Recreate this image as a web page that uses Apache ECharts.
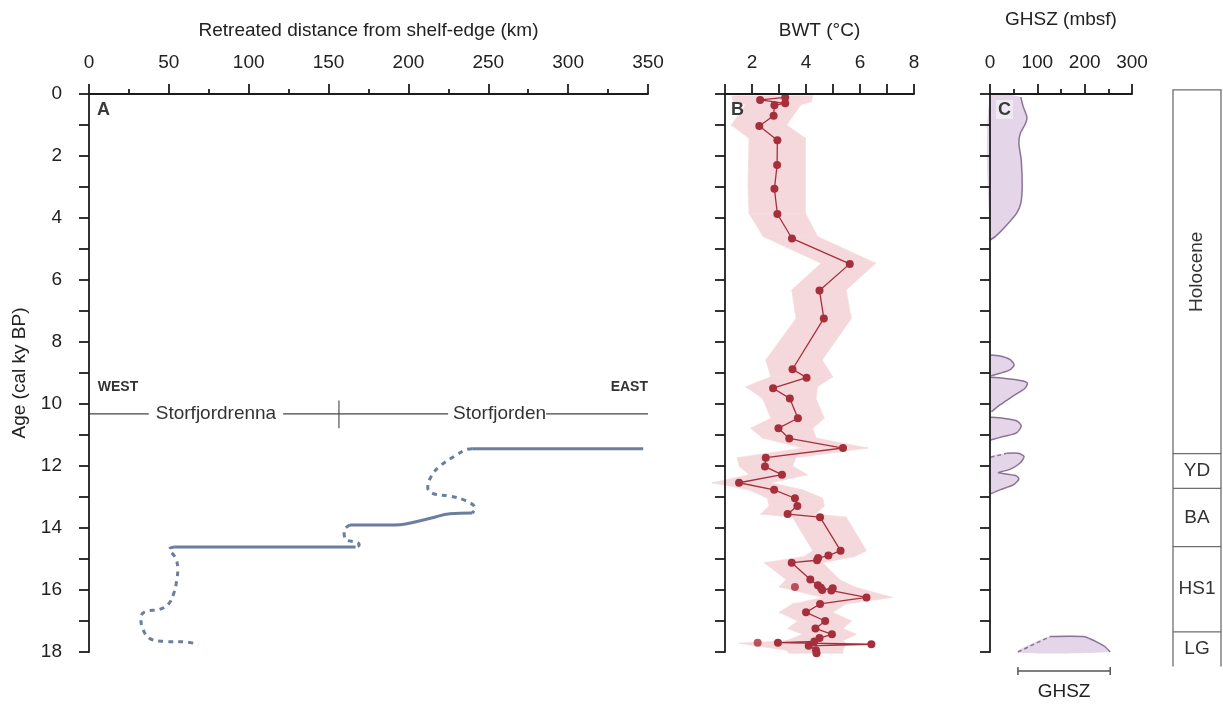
<!DOCTYPE html>
<html>
<head>
<meta charset="utf-8">
<script src="https://cdn.jsdelivr.net/npm/echarts@6/dist/echarts.min.js"></script>
<style>html,body{margin:0;padding:0;background:#fff}#c{width:1223px;height:706px}</style>
</head>
<body>
<div id="c"></div>
<script>
// ---------------- Panel A: ice-margin retreat (km from shelf edge) vs age ----------------
const retreatSolid1Km  = [347.0, 239.9];
const retreatSolid1Age = [11.44, 11.44];
const retreatDash1Km   = [239.9, 236.0, 230.6, 220.2, 214.4, 212.1, 215.6, 226.0, 236.4, 241.8, 239.9];
const retreatDash1Age  = [11.44, 11.47, 11.63, 11.98, 12.32, 12.70, 12.89, 12.97, 13.13, 13.37, 13.52];
const retreatSolid2Km  = [239.9, 226.0, 214.4, 198.2, 191.2, 163.4];
const retreatSolid2Age = [13.52, 13.54, 13.68, 13.87, 13.90, 13.90];
const retreatDash2Km   = [163.4, 159.7, 160.6, 168.1, 169.2, 166.9];
const retreatDash2Age  = [13.90, 14.09, 14.36, 14.47, 14.55, 14.61];
const retreatSolid3Km  = [166.9, 53.3];
const retreatSolid3Age = [14.61, 14.61];
const retreatDash3Km   = [53.3, 50.3, 54.0, 55.6, 54.9, 53.3, 49.8, 44.0, 35.9, 32.5, 33.6, 38.2, 47.5, 61.4, 68.4];
const retreatDash3Age  = [14.61, 14.68, 14.95, 15.32, 15.70, 16.07, 16.45, 16.63, 16.68, 16.88, 17.25, 17.57, 17.66, 17.68, 17.76];

const regionNames      = ['Storfjordrenna', 'Storfjorden'];
const regionNameKm     = [79.5, 255.5];
const regionLineAge    = 10.32;
const regionDividerKm  = 156.5;
const regionDividerAge = [9.89, 10.78];
const compassNames     = ['WEST', 'EAST'];
const compassKm        = [5.5, 350];
const compassAge       = 9.47;

// ---------------- Panel B: bottom-water temperature (°C) ----------------
const bwtAge  = [0.11, 0.19, 0.30, 0.36, 0.70, 1.03, 1.49, 2.29, 3.06, 3.87, 4.66, 5.48, 6.34, 7.24, 8.88,
                 9.15, 9.49, 9.82, 10.46, 10.78, 11.11, 11.42, 11.73, 12.02, 12.28, 12.54, 12.77, 13.04, 13.29,
                 13.55, 13.65, 14.73, 14.89, 14.97, 15.04, 15.12, 15.66, 15.85, 15.93, 16.00, 15.94, 16.02,
                 16.24, 16.45, 16.72, 17.00, 17.24, 17.43, 17.55, 17.66, 17.70, 17.75, 17.80, 17.94, 18.04];
const bwtTemp = [3.23, 2.30, 3.23, 2.83, 2.80, 2.27, 2.94, 2.93, 2.83, 2.94, 3.48, 5.62, 4.50, 4.66, 3.50,
                 4.02, 2.78, 3.40, 3.70, 2.98, 3.38, 5.37, 2.51, 2.48, 3.11, 1.52, 2.82, 3.59, 3.68,
                 3.32, 4.52, 5.28, 4.83, 4.45, 4.41, 3.47, 4.16, 4.44, 4.55, 4.60, 4.99, 4.94,
                 6.24, 4.52, 4.00, 4.71, 4.35, 4.96, 4.50, 4.31, 2.96, 6.42, 4.10, 4.37, 4.39];
const bwtIsolatedAge  = [15.90, 17.70];
const bwtIsolatedTemp = [3.59, 2.21];
const bandAge = [0.06, 0.25, 0.35, 1.00, 1.43, 3.00, 3.85, 4.60, 5.46, 6.32, 7.24, 8.58, 9.12, 9.44, 9.82,
                 10.46, 10.78, 11.10, 11.42, 11.73, 12.00, 12.28, 12.54, 12.77, 13.04, 13.29, 13.55, 13.65,
                 14.73, 14.92, 15.12, 15.66, 15.90, 16.24, 16.45, 16.72, 17.00, 17.24, 17.43, 17.64, 17.72,
                 17.94, 18.04];
const bandLo  = [1.25, 1.30, 1.76, 1.23, 1.89, 1.85, 1.89, 2.41, 4.56, 3.47, 3.63, 2.51, 2.70, 1.77, 2.39,
                 2.70, 1.95, 2.39, 3.87, 1.45, 1.52, 1.89, 0.52, 1.89, 2.57, 2.63, 2.32, 3.50,
                 4.25, 3.94, 2.45, 3.26, 3.00, 4.62, 3.50, 3.00, 3.69, 3.32, 3.87, 3.26, 1.52,
                 3.26, 3.38];
const bandHi  = [4.25, 4.20, 3.81, 3.28, 3.98, 3.98, 3.98, 4.43, 6.58, 5.49, 5.68, 4.60, 4.99, 4.43, 4.37,
                 4.68, 4.25, 4.37, 6.30, 3.63, 3.50, 4.06, 2.70, 3.87, 4.62, 4.68, 4.37, 5.49,
                 6.24, 5.80, 4.62, 5.24, 5.80, 7.21, 5.49, 4.99, 5.68, 5.37, 5.86, 5.37, 5.49,
                 5.37, 5.37];

// ---------------- Panel C: gas hydrate stability zone thickness (mbsf) ----------------
const ghsz1Age   = [0.10, 0.10, 0.40, 0.75, 0.95, 1.27, 1.59, 2.13, 2.99, 3.53, 3.85, 4.28, 4.60, 4.71];
const ghsz1Depth = [0, 65, 70, 78, 75, 64, 61, 66, 68, 65, 56, 32, 11, 0];
const ghsz2Age   = [8.42, 8.45, 8.56, 8.74, 8.90, 9.01, 9.10];
const ghsz2Depth = [0, 21, 42, 51, 42, 21, 1];
const ghsz3Age   = [9.14, 9.17, 9.25, 9.33, 9.49, 9.74, 10.03, 10.25];
const ghsz3Depth = [1, 28, 67, 79, 74, 49, 21, 3];
const ghsz4Age   = [10.43, 10.46, 10.54, 10.71, 10.93, 11.05, 11.16];
const ghsz4Depth = [1, 28, 56, 66, 56, 28, 1];
const ghsz5Age   = [11.72, 11.59, 11.59, 11.70, 11.91, 12.11, 12.21, 12.26, 12.32, 12.43, 12.61, 12.77, 12.90];
const ghsz5Depth = [1, 35, 60, 72, 63, 42, 18, 35, 56, 61, 49, 21, 1];
const ghsz6Age   = [18.0, 17.5, 17.5, 17.58, 17.68, 17.83, 18.0];
const ghsz6Depth = [59, 127, 198, 212, 226, 243, 254];
const ghszBarDepth = [59, 254];
const ghszBarLabel = 'GHSZ';

// ---------------- Chronostratigraphic column ----------------
const stratNames  = ['Holocene', 'YD', 'BA', 'HS1', 'LG'];
const stratTop    = [-0.13, 11.6, 12.72, 14.6, 17.35];
const stratBottom = [11.6, 12.72, 14.6, 17.35, 18.47];

// ---------------- Axes ----------------
const ageMin = 0, ageMax = 18, ageStep = 1;
const distMin = 0, distMax = 350, distStep = 50;
const bwtMin = 1, bwtMax = 8, bwtStep = 1;
const ghszMin = 0, ghszMax = 300, ghszStep = 100;

// ============================================================
const FONT = "'Liberation Sans', Arial, Helvetica, sans-serif";
const AX = '#1c1c1c';
const TXT = '#222';
const LBL = 19;

const chart = echarts.init(document.getElementById('c'));

function yAx(gi, labels, extra) {
  return Object.assign({
    type: 'value', gridIndex: gi, inverse: true, min: ageMin, max: ageMax, interval: ageStep, z: 10,
    axisLine: {show: true, onZero: false, lineStyle: {color: AX, width: 1.8}},
    axisTick: {show: true, length: 10, lineStyle: {color: AX, width: 1.8}},
    axisLabel: {show: labels, margin: 27, fontSize: LBL, color: TXT, fontFamily: FONT,
      formatter: v => (v % 2 === 0 ? String(v) : '')},
    splitLine: {show: false}
  }, extra || {});
}
function xAx(gi, min, max, step, name, nameGap, minor, fmt) {
  return {
    type: 'value', gridIndex: gi, position: 'top', min, max, interval: step, z: 10,
    name, nameLocation: 'middle', nameGap,
    nameTextStyle: {fontSize: LBL, color: TXT, fontFamily: FONT},
    axisLine: {show: true, onZero: false, lineStyle: {color: AX, width: 1.8}},
    axisTick: {show: true, length: 10, lineStyle: {color: AX, width: 1.8}},
    minorTick: {show: minor, splitNumber: 2, length: 5, lineStyle: {color: AX, width: 1.8}},
    axisLabel: {margin: 22, fontSize: LBL, color: TXT, fontFamily: FONT, formatter: fmt || (v => String(v))},
    splitLine: {show: false}, minorSplitLine: {show: false}
  };
}

const retreatColor = '#6b7e9e';
function seg(km, age, dashed) {
  return {
    type: 'line', xAxisIndex: 0, yAxisIndex: 0, data: km.map((k, i) => [k, age[i]]),
    showSymbol: false, symbol: 'none', smooth: 0.4, clip: false, z: 3,
    lineStyle: {color: retreatColor, width: 3, type: dashed ? [5, 5] : 'solid', cap: 'butt'}
  };
}

const ghszShapes = [
  [ghsz1Depth, ghsz1Age, 1, 0],
  [ghsz2Depth, ghsz2Age, 0, 0],
  [ghsz3Depth, ghsz3Age, 0, 0],
  [ghsz4Depth, ghsz4Age, 0, 0],
  [ghsz5Depth, ghsz5Age, 0, 1],
  [ghsz6Depth, ghsz6Age, 0, 1]
];

const option = {
  animation: false,
  backgroundColor: '#fff',
  textStyle: {fontFamily: FONT},
  grid: [
    {left: 89, top: 94, width: 559, height: 558},
    {left: 725, top: 94, width: 189, height: 558},
    {left: 990, top: 94, width: 142, height: 558},
    {left: 1173, top: 94, width: 48, height: 558}
  ],
  xAxis: [
    xAx(0, distMin, distMax, distStep, 'Retreated distance from shelf-edge (km)', 54, true),
    xAx(1, bwtMin, bwtMax, bwtStep, 'BWT (°C)', 54, false, v => (v % 2 === 0 ? String(v) : '')),
    xAx(2, ghszMin, ghszMax, ghszStep, 'GHSZ (mbsf)', 65, true),
    {type: 'value', gridIndex: 3, show: false, min: 0, max: 1}
  ],
  yAxis: [
    yAx(0, true, {name: 'Age (cal ky BP)', nameLocation: 'middle', nameGap: 60, nameRotate: 90,
      nameTextStyle: {fontSize: LBL, color: TXT, fontFamily: FONT}}),
    yAx(1, false),
    yAx(2, false),
    {type: 'value', gridIndex: 3, show: false, inverse: true, min: ageMin, max: ageMax}
  ],
  graphic: [
    {type: 'text', left: 97, top: 101, z: 100, style: {text: 'A', font: 'bold 18px ' + FONT, fill: '#3a3a3a'}},
    {type: 'text', left: 731, top: 101, z: 100, style: {text: 'B', font: 'bold 18px ' + FONT, fill: '#3a3a3a'}},
    {type: 'text', left: 996, top: 100, z: 100, style: {text: 'C', font: 'bold 18px ' + FONT, fill: '#3a3a3a',
      backgroundColor: 'rgba(255,255,255,0.45)', padding: [1, 2, 0, 2]}}
  ],
  series: [
    seg(retreatSolid1Km, retreatSolid1Age, false),
    seg(retreatDash1Km, retreatDash1Age, true),
    seg(retreatSolid2Km, retreatSolid2Age, false),
    seg(retreatDash2Km, retreatDash2Age, true),
    seg(retreatSolid3Km, retreatSolid3Age, false),
    seg(retreatDash3Km, retreatDash3Age, true),
    // region annotation (panel A)
    {
      type: 'custom', xAxisIndex: 0, yAxisIndex: 0, clip: false, z: 2,
      data: [[distMin, regionLineAge, distMax, regionLineAge]],
      encode: {x: [0, 2], y: [1, 3]},
      renderItem(params, api) {
        const p0 = api.coord([distMin, regionLineAge]), p1 = api.coord([distMax, regionLineAge]);
        const d0 = api.coord([regionDividerKm, regionDividerAge[0]]), d1 = api.coord([regionDividerKm, regionDividerAge[1]]);
        const children = [
          {type: 'line', shape: {x1: p0[0], y1: p0[1], x2: p1[0], y2: p1[1]}, style: {stroke: '#444', lineWidth: 1.1}},
          {type: 'line', shape: {x1: d0[0], y1: d0[1], x2: d1[0], y2: d1[1]}, style: {stroke: '#444', lineWidth: 1.1}}
        ];
        regionNames.forEach((n, i) => {
          const p = api.coord([regionNameKm[i], regionLineAge]);
          children.push({type: 'text', x: p[0], y: p[1], z2: 5, style: {text: n, fill: '#333', fontSize: 19, fontFamily: FONT,
            align: 'center', verticalAlign: 'middle', backgroundColor: '#fff', padding: i === 0 ? [0, 7, 0, 7] : [0, 0, 0, 5]}});
        });
        compassNames.forEach((n, i) => {
          const p = api.coord([compassKm[i], compassAge]);
          children.push({type: 'text', x: p[0], y: p[1], style: {text: n, fill: '#333', fontSize: 14, fontWeight: 'bold',
            fontFamily: FONT, align: i === 0 ? 'left' : 'right', verticalAlign: 'middle'}});
        });
        return {type: 'group', children};
      }
    },
    // BWT uncertainty band
    {
      type: 'custom', xAxisIndex: 1, yAxisIndex: 1, clip: false, z: 1,
      data: bandAge.map((a, i) => [bandLo[i], a, bandHi[i]]),
      encode: {x: [0, 2], y: 1},
      renderItem(params, api) {
        const i = params.dataIndex;
        if (i >= bandAge.length - 1) return null;
        const pts = [
          api.coord([bandLo[i], bandAge[i]]), api.coord([bandHi[i], bandAge[i]]),
          api.coord([bandHi[i + 1], bandAge[i + 1]]), api.coord([bandLo[i + 1], bandAge[i + 1]])
        ];
        return {type: 'polygon', shape: {points: pts}, style: {fill: '#f5d8dc', stroke: '#f5d8dc', lineWidth: 0.6}};
      }
    },
    {
      type: 'line', xAxisIndex: 1, yAxisIndex: 1, clip: false, z: 4,
      data: bwtAge.map((a, i) => [bwtTemp[i], a]),
      symbol: 'circle', symbolSize: 8, showSymbol: true,
      itemStyle: {color: '#a62f3c'}, lineStyle: {color: '#a62f3c', width: 1.3}
    },
    {
      type: 'scatter', xAxisIndex: 1, yAxisIndex: 1, clip: false, z: 4,
      data: bwtIsolatedAge.map((a, i) => [bwtIsolatedTemp[i], a]),
      symbol: 'circle', symbolSize: 8, itemStyle: {color: '#a62f3c'}
    },
    // GHSZ shapes
    {
      type: 'custom', xAxisIndex: 2, yAxisIndex: 2, clip: false, z: 2,
      data: ghszShapes.map((s, i) => [s[0][0], s[1][0]]),
      encode: {x: 0, y: 1},
      renderItem(params, api) {
        const [dep, age, strokeFrom, dashSegs] = ghszShapes[params.dataIndex];
        const pts = dep.map((d, k) => api.coord([d, age[k]]));
        const children = [{type: 'polygon', shape: {points: pts, smooth: 0.25}, style: {fill: '#e4d5e9'}}];
        if (dashSegs > 0) {
          children.push({type: 'polyline', shape: {points: pts.slice(strokeFrom, strokeFrom + dashSegs + 1)},
            style: {stroke: '#8c7396', lineWidth: 1.5, fill: 'none', lineDash: [4, 3]}});
        }
        children.push({type: 'polyline', shape: {points: pts.slice(strokeFrom + dashSegs), smooth: 0.25},
          style: {stroke: '#8c7396', lineWidth: 1.5, fill: 'none'}});
        return {type: 'group', children};
      }
    },
    // GHSZ scale bar
    {
      type: 'custom', xAxisIndex: 2, yAxisIndex: 2, clip: false, z: 2,
      data: [[ghszBarDepth[0], ageMax, ghszBarDepth[1], ageMax]],
      encode: {x: [0, 2], y: [1, 3]},
      renderItem(params, api) {
        const a = api.coord([ghszBarDepth[0], ageMax]), b = api.coord([ghszBarDepth[1], ageMax]);
        const y = a[1] + 19;
        const st = {stroke: '#555', lineWidth: 1.5};
        return {type: 'group', children: [
          {type: 'line', shape: {x1: a[0], y1: y, x2: b[0], y2: y}, style: st},
          {type: 'line', shape: {x1: a[0], y1: y - 4, x2: a[0], y2: y + 4}, style: st},
          {type: 'line', shape: {x1: b[0], y1: y - 4, x2: b[0], y2: y + 4}, style: st},
          {type: 'text', x: (a[0] + b[0]) / 2, y: y + 21, style: {text: ghszBarLabel, fill: '#222', fontSize: 19,
            fontFamily: FONT, align: 'center', verticalAlign: 'middle'}}
        ]};
      }
    },
    // chronostratigraphic column
    {
      type: 'custom', xAxisIndex: 3, yAxisIndex: 3, clip: false, z: 2,
      data: stratTop.map((t, i) => [0, t, 1, stratBottom[i]]),
      encode: {x: [0, 2], y: [1, 3]},
      renderItem(params, api) {
        const i = params.dataIndex;
        const tl = api.coord([0, stratTop[i]]), br = api.coord([1, stratBottom[i]]);
        return {type: 'group', children: [
          {type: 'polyline', shape: {points: [[tl[0], br[1]], [tl[0], tl[1]], [br[0], tl[1]], [br[0], br[1]]]},
            style: {stroke: '#6e6e6e', lineWidth: 1.3, fill: 'none'}},
          {type: 'text', x: (tl[0] + br[0]) / 2, y: (tl[1] + br[1]) / 2, rotation: i === 0 ? Math.PI / 2 : 0,
            style: {text: stratNames[i], fill: '#333', fontSize: 19, fontFamily: FONT, align: 'center', verticalAlign: 'middle'}}
        ]};
      }
    }
  ]
};
chart.setOption(option);
</script>
</body>
</html>
